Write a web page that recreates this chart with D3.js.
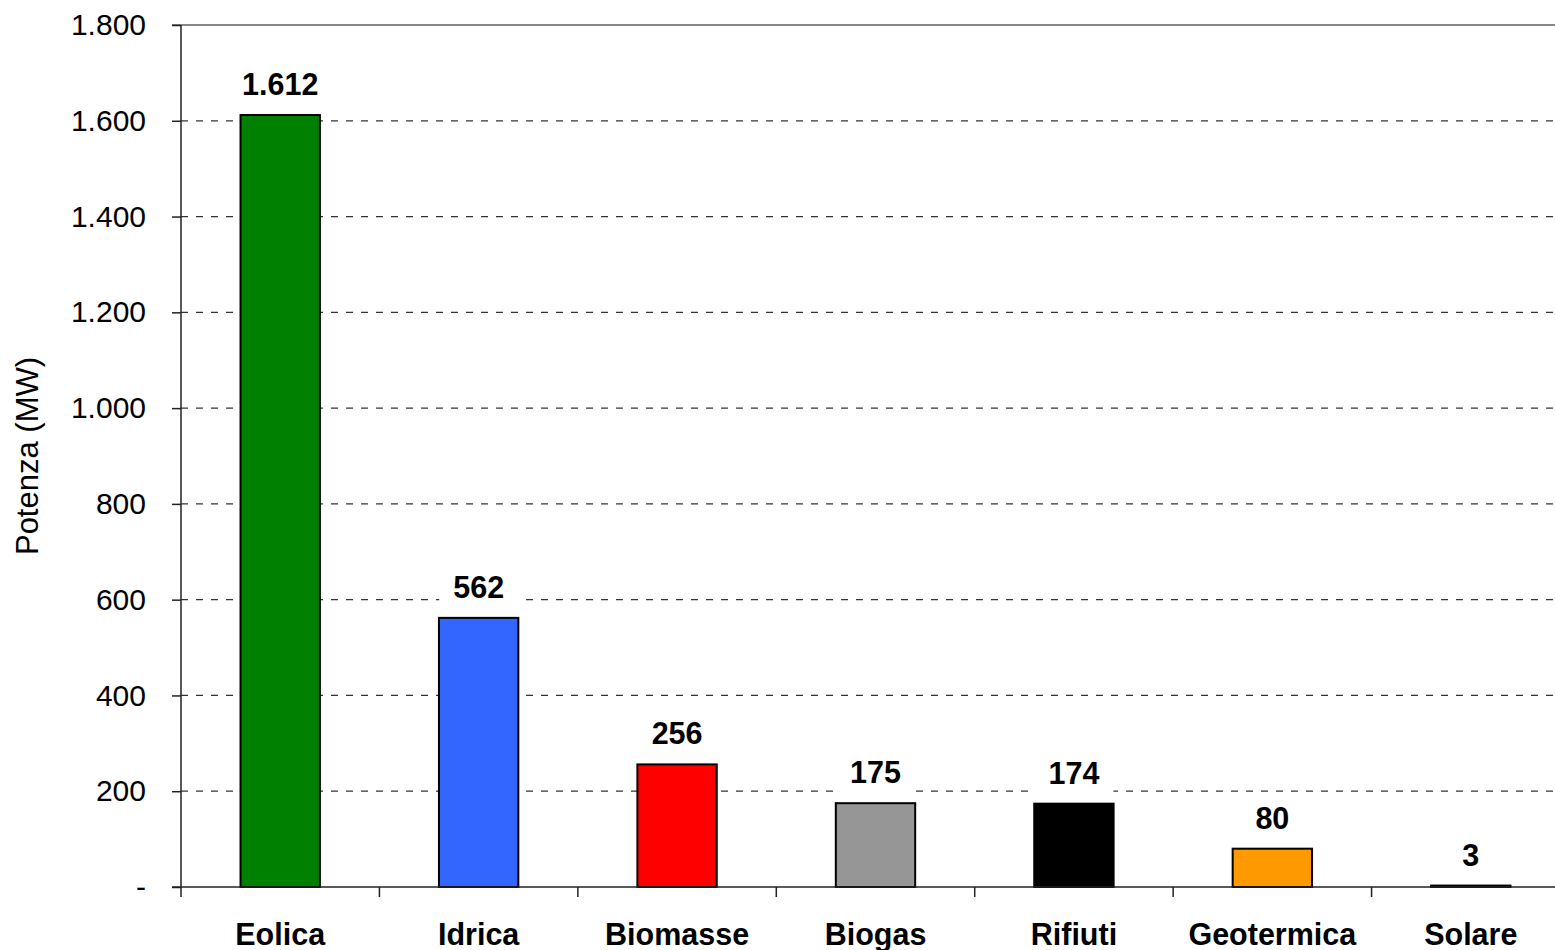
<!DOCTYPE html>
<html>
<head>
<meta charset="utf-8">
<script src="https://cdn.jsdelivr.net/npm/d3@7"></script>
<style>
  html, body { margin: 0; padding: 0; background: #fff; overflow: hidden; }
  svg { display: block; font-family: "Liberation Sans", Arial, sans-serif; }
</style>
</head>
<body>
<svg id="chart" width="1555" height="950"></svg>
<script>
const categories = ["Eolica", "Idrica", "Biomasse", "Biogas", "Rifiuti", "Geotermica", "Solare"];
const values = [1612, 562, 256, 175, 174, 80, 3];
const colors = ["#008000", "#3366FF", "#FF0000", "#969696", "#000000", "#FF9900", "#000000"];
const yTicks = [0, 200, 400, 600, 800, 1000, 1200, 1400, 1600, 1800];
const yTickLabels = ["-", "200", "400", "600", "800", "1.000", "1.200", "1.400", "1.600", "1.800"];
const valueLabels = ["1.612", "562", "256", "175", "174", "80", "3"];
const yTitle = "Potenza (MW)";

(function () {
const svg = d3.select("#chart");
const pLeft = 181, pRight = 1570, pTop = 25, pBottom = 887;

const x = d3.scaleBand().domain(categories).range([pLeft, pRight]).paddingInner(0.6).paddingOuter(0.3);
const y = d3.scaleLinear().domain([0, 1800]).range([pBottom, pTop]);

// gridlines (dashed)
svg.append("g").selectAll("line").data(yTicks.filter(d => d > 0 && d < 1800)).join("line")
  .attr("x1", pLeft).attr("x2", pRight)
  .attr("y1", d => y(d)).attr("y2", d => y(d))
  .attr("stroke", "#333").attr("stroke-width", 1.3).attr("stroke-dasharray", "7,8");

// plot area top border (gray)
svg.append("line").attr("x1", pLeft - 9).attr("x2", pRight).attr("y1", y(1800)).attr("y2", y(1800))
  .attr("stroke", "#888").attr("stroke-width", 2);

// bars
svg.append("g").selectAll("rect").data(categories).join("rect")
  .attr("x", d => x(d))
  .attr("y", (d, i) => y(values[i]))
  .attr("width", x.bandwidth())
  .attr("height", (d, i) => y(0) - y(values[i]))
  .attr("fill", (d, i) => colors[i])
  .attr("stroke", "#000").attr("stroke-width", 2);

// value labels with white background
const lbl = svg.append("g").selectAll("g").data(categories).join("g")
  .attr("transform", (d, i) => `translate(${x(d) + x.bandwidth() / 2},${y(values[i]) - 20})`);
const lt = lbl.append("text")
  .attr("text-anchor", "middle").attr("font-weight", "bold").attr("font-size", 30.5)
  .attr("fill", "#000")
  .text((d, i) => valueLabels[i]);
lt.each(function () {
  const b = this.getBBox();
  d3.select(this.parentNode).insert("rect", "text")
    .attr("x", b.x - 14).attr("y", b.y - 4).attr("width", b.width + 28).attr("height", b.height + 10)
    .attr("fill", "#fff");
});

// y axis
const yAxis = svg.append("g").attr("transform", `translate(${pLeft},0)`)
  .call(d3.axisLeft(y).tickValues(yTicks).tickSize(9).tickPadding(26).tickFormat((d, i) => yTickLabels[i]));
yAxis.select(".domain").attr("stroke", "#222").attr("stroke-width", 1.5).attr("d", `M0,${pTop}V${pBottom}`);
yAxis.selectAll(".tick line").attr("stroke", "#222").attr("stroke-width", 1.5);
yAxis.selectAll(".tick text").attr("font-size", 30).attr("fill", "#000").attr("font-family", "Liberation Sans, Arial, sans-serif");

// x axis
const boundaries = categories.map(c => x(c) - x.step() * x.paddingInner() / 2);
boundaries.push(pRight);
const xg = svg.append("g");
xg.append("line").attr("x1", pLeft - 9).attr("x2", pRight).attr("y1", pBottom).attr("y2", pBottom)
  .attr("stroke", "#222").attr("stroke-width", 1.5);
xg.selectAll("line.tk").data(boundaries).join("line").attr("class", "tk")
  .attr("x1", d => d).attr("x2", d => d).attr("y1", pBottom).attr("y2", pBottom + 10)
  .attr("stroke", "#222").attr("stroke-width", 1.5);
xg.selectAll("text").data(categories).join("text")
  .attr("x", d => x(d) + x.bandwidth() / 2).attr("y", 945)
  .attr("text-anchor", "middle").attr("font-weight", "bold").attr("font-size", 30.5)
  .text(d => d);

// y title
svg.append("text").attr("transform", `translate(38,456) rotate(-90)`)
  .attr("text-anchor", "middle").attr("font-size", 31).text(yTitle);
})();
</script>
</body>
</html>
